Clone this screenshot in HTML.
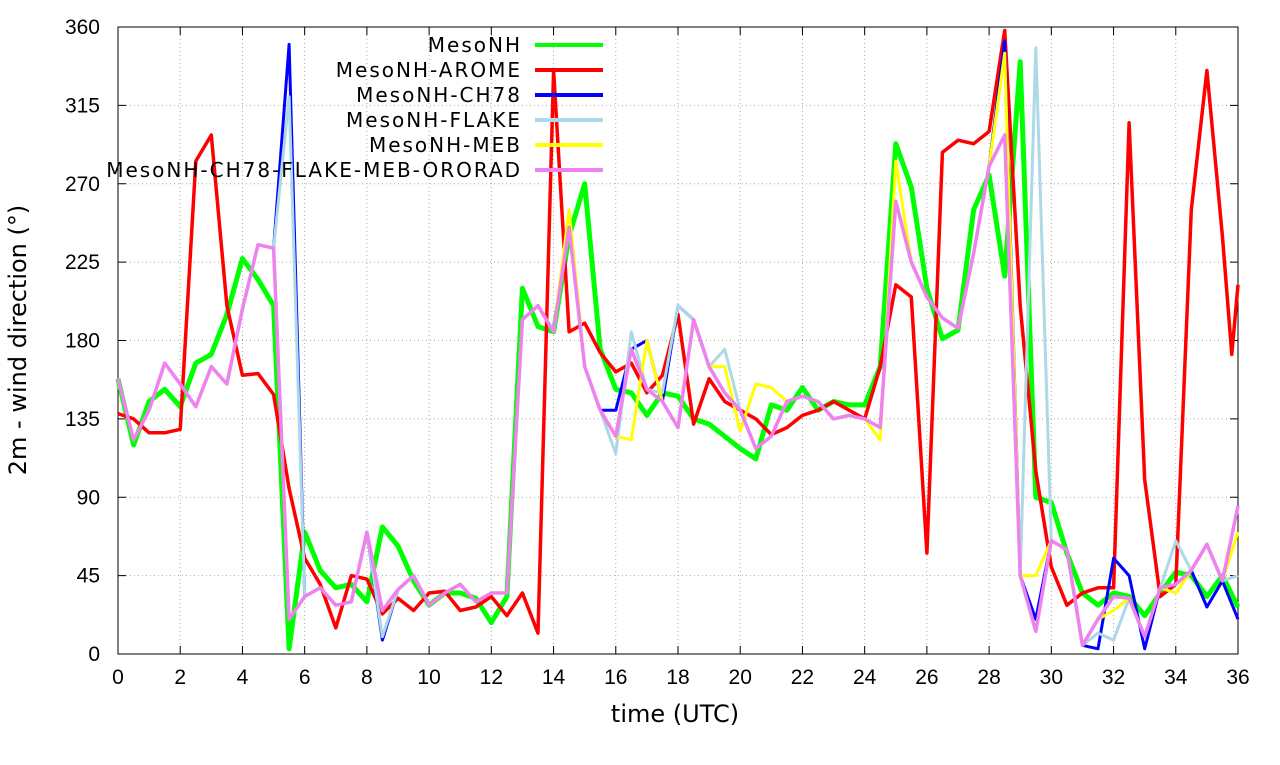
<!DOCTYPE html>
<html><head><meta charset="utf-8"><style>
body{margin:0;background:#fff}
text{font-family:"Liberation Sans",sans-serif;fill:#000}
text.d{font-family:"DejaVu Sans",sans-serif}
</style></head><body>
<svg id="s" width="1280" height="760" xmlns="http://www.w3.org/2000/svg"></svg>
<script>
const s=document.getElementById('s');
const X=t=>118+t*1120/36, Y=v=>654-v*627/360;
let h='';
for(let t=0;t<=36;t+=2){const x=X(t);
 if(t>0&&t<36)h+=`<line x1="${x}" y1="27" x2="${x}" y2="654" stroke="#aaa" stroke-dasharray="1,3"/>`;
 h+=`<line x1="${x}" y1="654" x2="${x}" y2="646" stroke="#000"/><line x1="${x}" y1="27" x2="${x}" y2="35" stroke="#000"/>`;
 h+=`<text x="${x}" y="684" font-size="21" text-anchor="middle">${t}</text>`;}
for(let v=0;v<=360;v+=45){const y=Y(v);
 if(v>0&&v<360)h+=`<line x1="118" y1="${y}" x2="1238" y2="${y}" stroke="#aaa" stroke-dasharray="1,3"/>`;
 h+=`<line x1="118" y1="${y}" x2="126" y2="${y}" stroke="#000"/><line x1="1238" y1="${y}" x2="1230" y2="${y}" stroke="#000"/>`;
 h+=`<text x="100" y="${y+7}" font-size="21" text-anchor="end">${v}</text>`;}
h+=`<rect x="118" y="27" width="1120" height="627" fill="none" stroke="#000"/>`;
h+=`<text class="d" x="675" y="722" font-size="24" text-anchor="middle">time (UTC)</text>`;
h+=`<text class="d" transform="translate(26,340) rotate(-90)" font-size="24" text-anchor="middle">2m - wind direction (°)</text>`;
const half=a=>a.map((v,i)=>[i*0.5,v]);
const lil=[158,123,140,167,155,142,165,155,198,235,233,20,33,38,28,30,70,25,37,45,28,35,40,30,35,35,192,200,185,245,165,140,125,175,152,145,130,192,165,150,140,118,125,145,148,145,135,137,135,130,260,225,205,193,187,230,280,298,45,13,65,60,5,20,33,32,10,38,40,48,63,42,85];
const mod=(o)=>half(lil.map((v,i)=>o[i*0.5]!==undefined?o[i*0.5]:v));
const green=half([158,120,145,152,142,167,172,195,227,215,200,3,70,48,38,40,30,73,62,42,28,35,35,32,18,33,210,188,185,240,270,175,152,150,137,150,148,135,132,125,118,112,143,140,153,140,145,143,143,165,293,268,210,181,186,255,275,217,340,90,87,58,35,28,35,33,22,35,47,45,33,45,27]);
const redv=[138,135,127,127,129,283,298,200,160,161,149,95,55,40,15,45,43,23,32,25,35,36,25,27,33,22,35,12,335,185,190,173,162,167,150,160,195,132,158,145,140,135,126,130,137,140,145,140,135,165,212,205,58,288,295,293,300,358,200,105,50,28,35,38,38,305,100,33,40,255,335,240];
const red=half(redv);red.push([35.8,172],[36,212]);
const blue=mod({5.5:350,8.5:8,16:140,17:180,18:200,28.5:352,29.5:20,31.5:3,32:55,32.5:45,33:3,35:27,36:20});
const lb=mod({5.5:320,8.5:10,16:115,16.5:185,17.5:150,18:200,19.5:175,29.5:348,31.5:12,32:8,34:65,36:45});
const yel=mod({14.5:255,16:125,16.5:123,17:180,19.5:165,20:128,20.5:155,21:153,24.5:123,25:283,28.5:345,29.5:45,32:25,34:35,36:70});
const series=[['MesoNH','#00ff00',green,5],['MesoNH-AROME','#ff0000',red,3.5],['MesoNH-CH78','#0000ff',blue,3],['MesoNH-FLAKE','#add8e6',lb,3],['MesoNH-MEB','#ffff00',yel,3],['MesoNH-CH78-FLAKE-MEB-ORORAD','#ee82ee',half(lil),3.5]];
series.forEach(([n,c,d,w],i)=>{
 h+=`<polyline fill="none" stroke="${c}" stroke-width="${w}" stroke-linejoin="round" points="${d.map(p=>X(p[0]).toFixed(1)+','+Y(p[1]).toFixed(1)).join(' ')}"/>`;
});
series.forEach(([n,c,d,w],i)=>{const y=45+i*25;
 h+=`<text class="d" x="522" y="${y+7}" font-size="20" letter-spacing="2" text-anchor="end">${n}</text><line x1="535" y1="${y}" x2="603" y2="${y}" stroke="${c}" stroke-width="4"/>`;});
s.innerHTML=h;
</script>
</body></html>
